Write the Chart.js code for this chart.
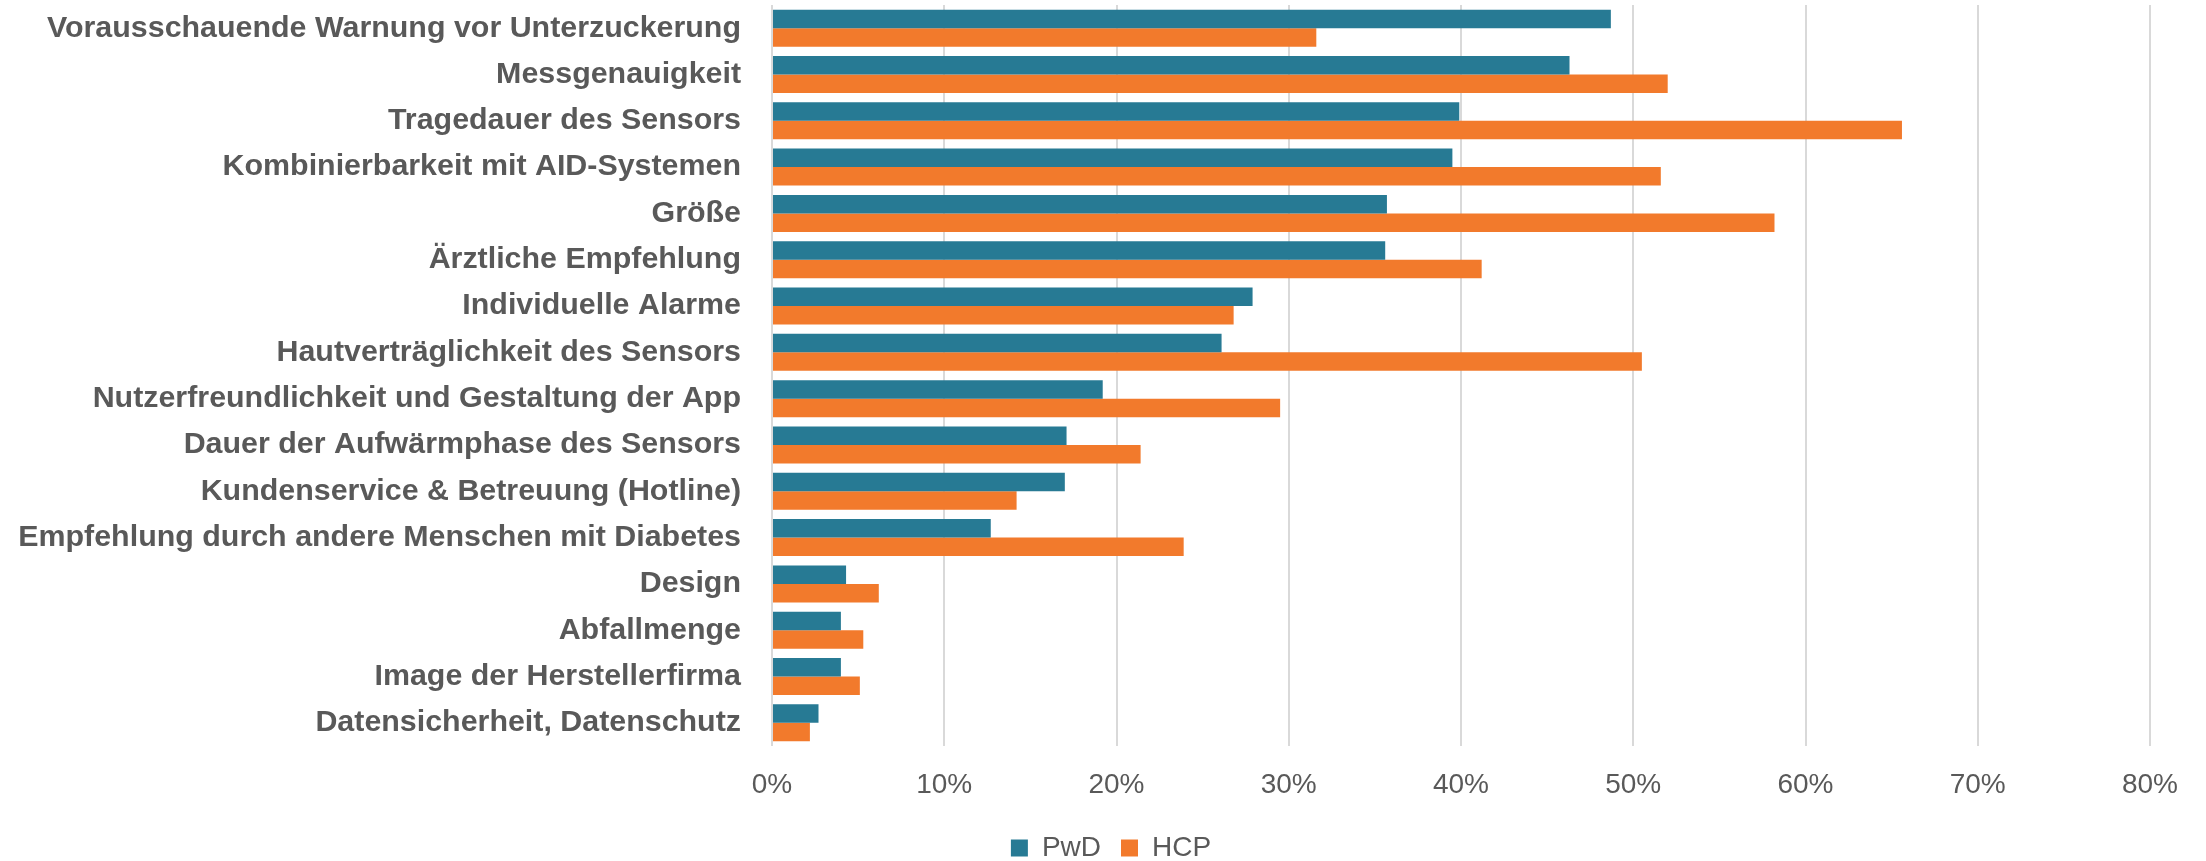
<!DOCTYPE html>
<html>
<head>
<meta charset="utf-8">
<script src="https://cdn.jsdelivr.net/npm/chart.js@4"></script>
<style>
  html, body { margin: 0; padding: 0; background: #fff; }
  #wrap { width: 2206px; height: 861px; position: relative; }
</style>
</head>
<body>
<div id="wrap"><canvas id="chart"></canvas></div>
<script>
const categories = [
    'Vorausschauende Warnung vor Unterzuckerung',
    'Messgenauigkeit',
    'Tragedauer des Sensors',
    'Kombinierbarkeit mit AID-Systemen',
    'Größe',
    'Ärztliche Empfehlung',
    'Individuelle Alarme',
    'Hautverträglichkeit des Sensors',
    'Nutzerfreundlichkeit und Gestaltung der App',
    'Dauer der Aufwärmphase des Sensors',
    'Kundenservice & Betreuung (Hotline)',
    'Empfehlung durch andere Menschen mit Diabetes',
    'Design',
    'Abfallmenge',
    'Image der Herstellerfirma',
    'Datensicherheit, Datenschutz'
];
const pwdValues = [48.7, 46.3, 39.9, 39.5, 35.7, 35.6, 27.9, 26.1, 19.2, 17.1, 17.0, 12.7, 4.3, 4.0, 4.0, 2.7];
const hcpValues = [31.6, 52.0, 65.6, 51.6, 58.2, 41.2, 26.8, 50.5, 29.5, 21.4, 14.2, 23.9, 6.2, 5.3, 5.1, 2.2];
const xTicks = [0, 10, 20, 30, 40, 50, 60, 70, 80];

const grey = '#595959';

const ctx = document.getElementById('chart').getContext('2d');

// the legend is centred on the whole canvas, not on the area left of the right padding
const legendShift = {
    id: 'legendShift',
    afterLayout: function (chart) {
        chart.legend.left += 36;
        chart.legend.right += 36;
    }
};

const chart = new Chart(ctx, {
    type: 'bar',
    data: {
        labels: categories,
        datasets: [
            {
                label: 'PwD',
                data: pwdValues,
                backgroundColor: '#277A94',
                borderWidth: 0
            },
            {
                label: 'HCP',
                data: hcpValues,
                backgroundColor: '#F27A2C',
                borderWidth: 0
            }
        ]
    },
    options: {
        indexAxis: 'y',
        responsive: true,
        maintainAspectRatio: false,
        animation: false,
        layout: {
            padding: { top: 5, right: 56, bottom: -11, left: 0 }
        },
        datasets: {
            bar: {
                categoryPercentage: 0.8,
                barPercentage: 1.0
            }
        },
        scales: {
            x: {
                min: 0,
                max: 80,
                afterBuildTicks: function (scale) {
                    scale.ticks = xTicks.map(v => ({ value: v }));
                },
                afterFit: function (scale) {
                    scale.height = 68;
                },
                grid: {
                    color: '#D9D9D9',
                    lineWidth: 2,
                    drawTicks: false
                },
                border: { display: false },
                ticks: {
                    padding: 22,
                    color: grey,
                    font: { family: 'Liberation Sans', size: 28 },
                    callback: function (value) {
                        return value + '%';
                    }
                }
            },
            y: {
                afterFit: function (scale) {
                    scale.width = 772;
                    scale.paddingTop = 0;
                    scale.paddingBottom = 0;
                },
                grid: { display: false, drawTicks: false },
                border: { display: false },
                ticks: {
                    padding: 31,
                    color: grey,
                    autoSkip: false,
                    font: { family: 'Liberation Sans', size: 30.4, weight: 'bold' }
                }
            }
        },
        plugins: {
            legend: {
                position: 'bottom',
                labels: {
                    color: grey,
                    boxWidth: 17,
                    boxHeight: 17,
                    padding: 20,
                    font: { family: 'Liberation Sans', size: 28 }
                }
            },
            tooltip: { enabled: false }
        }
    },
    plugins: [legendShift]
});
</script>
</body>
</html>
